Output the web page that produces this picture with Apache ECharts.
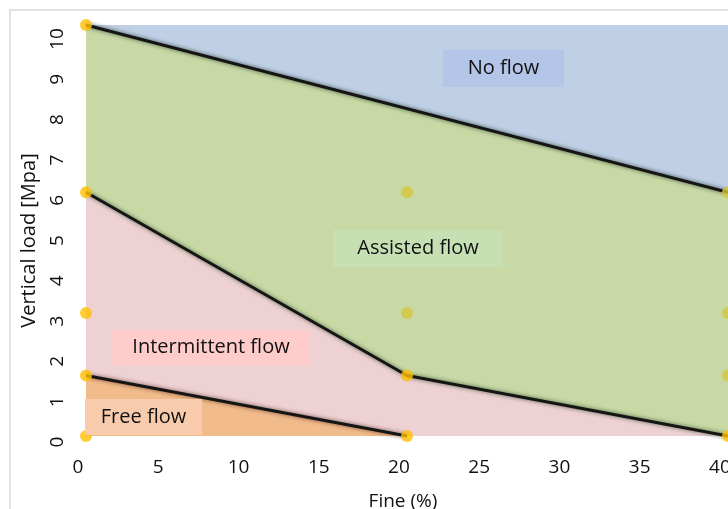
<!DOCTYPE html>
<html>
<head>
<meta charset="utf-8">
<script src="https://cdn.jsdelivr.net/npm/echarts@6/dist/echarts.min.js"></script>
<style>html,body{margin:0;padding:0;background:#fff}#c{width:728px;height:509px}</style>
</head>
<body>
<div id="c"></div>
<script>
// Boundary lines between flow regimes: [Fine %, Vertical load MPa]
var topLine = [[0.5, 10.35], [40.5, 6.2]];
var midLine = [[0.5, 6.2], [20.5, 1.65], [40.5, 0.15]];
var lowLine = [[0.5, 1.65], [20.5, 0.15]];
var baseLoad = 0.15;
// Test points
var boundaryPoints = [[0.5, 10.35], [0.5, 6.2], [0.5, 3.2], [0.5, 1.65], [0.5, 0.15], [20.5, 1.65], [20.5, 0.15], [40.5, 0.15]];
var interiorPoints = [[20.5, 6.2], [20.5, 3.2], [40.5, 6.2], [40.5, 3.2], [40.5, 1.65]];
var regionNames = ['No flow', 'Assisted flow', 'Intermittent flow', 'Free flow'];
var xTitle = 'Fine (%)';
var yTitle = 'Vertical load [Mpa]';

var FONT = '"Open Sans", "Noto Sans", sans-serif';
var chart = echarts.init(document.getElementById('c'), null, {renderer: 'canvas'});

function lineSt(shadow) {
  return {color: '#151515', width: 3, shadowBlur: 4, shadowColor: shadow};
}
function box(x, y, w, h, fill, text) {
  return [
    {type: 'rect', z: 100, zlevel: 0, shape: {x: x, y: y, width: w, height: h}, style: {fill: fill}},
    {type: 'text', z: 101, zlevel: 0, x: x + w / 2, y: y + h / 2,
     style: {text: text, fill: '#111', font: '20px ' + FONT,
             align: 'center', verticalAlign: 'middle', textAlign: 'center', textVerticalAlign: 'middle'}}
  ];
}

var option = {
  animation: false,
  backgroundColor: '#ffffff',
  grid: {left: 78, right: 0, top: 25, bottom: 67, containLabel: false, outerBoundsMode: 'none'},
  xAxis: {
    type: 'value', min: 0, max: 40.5, interval: 5,
    axisLine: {show: false}, axisTick: {show: false}, splitLine: {show: false},
    axisLabel: {
      color: '#111', fontSize: 19, fontFamily: FONT, margin: 16,
      formatter: function (v) { return Number.isInteger(v) ? String(v) : ''; }
    },
    name: xTitle, nameLocation: 'middle', nameGap: 50,
    nameTextStyle: {color: '#111', fontSize: 19, fontFamily: FONT}
  },
  yAxis: {
    type: 'value', min: 0, max: 10.35, interval: 1,
    axisLine: {show: false}, axisTick: {show: false}, splitLine: {show: false},
    axisLabel: {
      color: '#111', fontSize: 19, fontFamily: FONT, margin: 11, rotate: 90,
      formatter: function (v) { return Number.isInteger(v) ? String(v) : ''; }
    },
    name: yTitle, nameLocation: 'middle', nameGap: 39,
    nameTextStyle: {color: '#111', fontSize: 20, fontFamily: FONT, padding: [0, 14, 0, 0]}
  },
  graphic: [
    {type: 'rect', z: 0, shape: {x: 10, y: 10, width: 740, height: 520},
     style: {fill: 'none', stroke: '#e2e2e2', lineWidth: 2}}
  ].concat(
    box(443, 50, 121, 37, '#b4c6e7', regionNames[0]),
    box(333, 230, 170, 37, '#c6e0b4', regionNames[1]),
    box(112, 330, 198, 35, '#ffcccc', regionNames[2]),
    box(85, 399, 117, 36, '#f8cbad', regionNames[3])
  ),
  series: [
    {type: 'line', name: regionNames[0], data: topLine, symbol: 'none', clip: false,
     lineStyle: {width: 0}, areaStyle: {color: '#bfd0e6', opacity: 1, origin: 'end'}},
    {type: 'line', name: regionNames[1], data: topLine, symbol: 'none', clip: false,
     lineStyle: {width: 0}, areaStyle: {color: '#c8d9a6', opacity: 1, origin: baseLoad}},
    {type: 'line', name: regionNames[2], data: midLine, symbol: 'none', clip: false,
     lineStyle: {width: 0}, areaStyle: {color: '#edd1d3', opacity: 1, origin: baseLoad}},
    {type: 'line', name: regionNames[3], data: lowLine, symbol: 'none', clip: false,
     lineStyle: {width: 0}, areaStyle: {color: '#f1bb8c', opacity: 1, origin: baseLoad}},
    {type: 'line', data: topLine, symbol: 'none', clip: false, lineStyle: lineSt('rgba(10,30,10,0.7)')},
    {type: 'line', data: midLine, symbol: 'none', clip: false, lineStyle: lineSt('rgba(20,50,10,0.7)')},
    {type: 'line', data: lowLine, symbol: 'none', clip: false, lineStyle: lineSt('rgba(70,25,5,0.7)')},
    {type: 'scatter', data: interiorPoints, symbolSize: 12, clip: false, z: 5,
     itemStyle: {color: '#d6c63c'}},
    {type: 'scatter', data: boundaryPoints, symbolSize: 12, clip: false, z: 5,
     itemStyle: {color: '#ffc000'}}
  ]
};
chart.setOption(option);
</script>
</body>
</html>
